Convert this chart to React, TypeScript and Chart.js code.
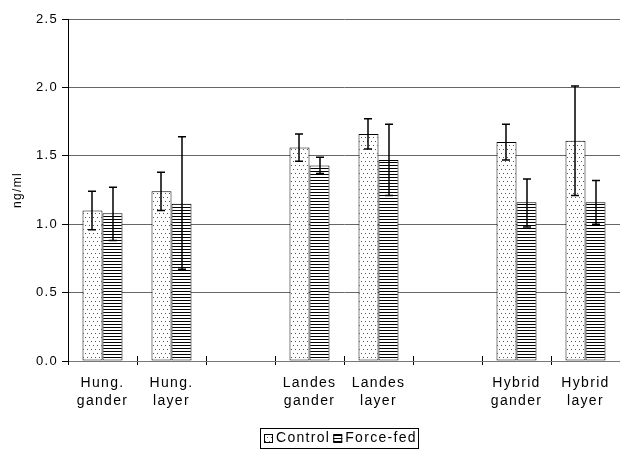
import React, { useEffect, useRef } from "react";
import { Chart, registerables } from "chart.js";
Chart.register(...registerables);

const categories: (string | string[])[] = [
  ["Hung.", "gander"], ["Hung.", "layer"], "", ["Landes", "gander"], ["Landes", "layer"], "", ["Hybrid", "gander"], ["Hybrid", "layer"],
];
const seriesNames = ["Control", "Force-fed"];
const controlValues = [1.10, 1.24, 0, 1.56, 1.66, 0, 1.60, 1.61];
const controlLow = [0.96, 1.10, null, 1.46, 1.55, null, 1.47, 1.21];
const controlHigh = [1.24, 1.38, null, 1.66, 1.77, null, 1.73, 2.01];
const forceFedValues = [1.08, 1.15, 0, 1.43, 1.47, 0, 1.16, 1.16];
const forceFedLow = [0.88, 0.67, null, 1.37, 1.21, null, 0.98, 1.00];
const forceFedHigh = [1.27, 1.64, null, 1.49, 1.73, null, 1.33, 1.32];
const yTicks = [0, 0.5, 1.0, 1.5, 2.0, 2.5];

const FONT = "'Liberation Sans', Arial, sans-serif";
const SPACING = "1.3px";

function dotPattern(): CanvasPattern | string {
  const c = document.createElement("canvas");
  c.width = 4; c.height = 8;
  const g = c.getContext("2d")!;
  g.fillStyle = "#ffffff"; g.fillRect(0, 0, 4, 8);
  g.fillStyle = "#555555";
  g.fillRect(1, 1, 1, 1);
  g.fillRect(3, 5, 1, 1);
  const p = document.createElement("canvas").getContext("2d")!.createPattern(c, "repeat");
  return p || "#fff";
}
function linePattern(): CanvasPattern | string {
  const c = document.createElement("canvas");
  c.width = 4; c.height = 3;
  const g = c.getContext("2d")!;
  g.fillStyle = "#ffffff"; g.fillRect(0, 0, 4, 3);
  g.fillStyle = "#000000"; g.fillRect(0, 0, 4, 1);
  const p = document.createElement("canvas").getContext("2d")!.createPattern(c, "repeat");
  return p || "#000";
}

const spacingPlugin = {
  id: "letterSpacing",
  beforeLayout(chart: any) { (chart.ctx as any).letterSpacing = SPACING; },
  beforeDraw(chart: any) { (chart.ctx as any).letterSpacing = SPACING; },
};

const errorBarPlugin = {
  id: "errorBars",
  afterDatasetsDraw(chart: any) {
    const ctx = chart.ctx;
    const y = chart.scales.y;
    const lows = [controlLow, forceFedLow];
    const highs = [controlHigh, forceFedHigh];
    ctx.save();
    ctx.strokeStyle = "#000";
    ctx.lineWidth = 1.5;
    chart.data.datasets.forEach((_: any, di: number) => {
      const meta = chart.getDatasetMeta(di);
      meta.data.forEach((el: any, i: number) => {
        const lo = lows[di][i], hi = highs[di][i];
        if (lo == null || hi == null) return;
        const x = Math.round(el.x);
        const yl = y.getPixelForValue(lo), yh = y.getPixelForValue(hi);
        ctx.beginPath();
        ctx.moveTo(x, yl); ctx.lineTo(x, yh);
        ctx.moveTo(x - 4, yl); ctx.lineTo(x + 4, yl);
        ctx.moveTo(x - 4, yh); ctx.lineTo(x + 4, yh);
        ctx.stroke();
      });
    });
    // category boundary marks crossing the axis
    const xs = chart.scales.x;
    const bottom = chart.chartArea.bottom;
    ctx.lineWidth = 1;
    for (let i = 1; i <= categories.length; i++) {
      const px = Math.round((xs.getPixelForTick(i - 1) + (i < categories.length ? xs.getPixelForTick(i) : xs.right + (xs.right - xs.getPixelForTick(i - 1)))) / 2) + 0.5;
      if (px > xs.right) continue;
      ctx.beginPath();
      ctx.moveTo(px, bottom - 5); ctx.lineTo(px, bottom);
      ctx.stroke();
    }
    ctx.restore();
  },
};

const legendPlugin = {
  id: "boxLegend",
  afterDraw(chart: any) {
    const ctx = chart.ctx;
    ctx.save();
    ctx.letterSpacing = SPACING;
    ctx.font = `14px ${FONT}`;
    ctx.textBaseline = "middle";
    const box = 9;
    const gap = 3;
    const itemGap = 3;
    const widths = seriesNames.map((n) => box + gap + ctx.measureText(n).width);
    const total = widths.reduce((a, b) => a + b, 0) + itemGap;
    const cx = 340;
    const left = Math.round(cx - total / 2 - 4);
    const right = Math.round(cx + total / 2 + 2);
    const top = 428, bottom = 448;
    ctx.strokeStyle = "#000"; ctx.lineWidth = 1;
    ctx.strokeRect(left + 0.5, top + 0.5, right - left, bottom - top);
    let x = left + 4;
    const cy = (top + bottom) / 2 + 0.5;
    chart.data.datasets.forEach((ds: any, i: number) => {
      ctx.fillStyle = ds.backgroundColor;
      ctx.fillRect(x, Math.round(cy - box / 2), box, box);
      ctx.strokeStyle = "#000";
      ctx.strokeRect(x + 0.5, Math.round(cy - box / 2) + 0.5, box - 1, box - 1);
      ctx.fillStyle = "#000";
      ctx.textAlign = "left";
      ctx.fillText(seriesNames[i], x + box + gap, cy);
      x += widths[i] + itemGap;
    });
    ctx.restore();
  },
};

export default function App() {
  const ref = useRef<HTMLCanvasElement>(null);
  useEffect(() => {
    const chart = new Chart(ref.current!, {
      type: "bar",
      data: {
        labels: categories as any,
        datasets: [
          { label: seriesNames[0], data: controlValues, backgroundColor: dotPattern() as any, borderColor: "#000", borderWidth: 1, borderSkipped: false, barPercentage: 1, categoryPercentage: 0.58 },
          { label: seriesNames[1], data: forceFedValues, backgroundColor: linePattern() as any, borderColor: "#000", borderWidth: 1, borderSkipped: false, barPercentage: 1, categoryPercentage: 0.58 },
        ],
      },
      options: {
        responsive: false,
        animation: false,
        layout: { padding: { top: 19, right: 0, left: 0, bottom: 0 } },
        plugins: { legend: { display: false }, tooltip: { enabled: false } },
        scales: {
          x: {
            offset: true,
            grid: { offset: true, drawOnChartArea: false, color: "#000", tickLength: 4, tickColor: "#000" },
            border: { color: "#777", width: 1 },
            ticks: { color: "#000", font: { family: FONT, size: 14, lineHeight: 1.28 }, maxRotation: 0, autoSkip: false, padding: 9 },
            afterFit: (s: any) => { s.height = 89; },
          },
          y: {
            min: 0, max: 2.5,
            afterBuildTicks: (s: any) => { s.ticks = yTicks.map((v) => ({ value: v })); },
            grid: { color: "#666", tickColor: "#000", tickLength: 6 },
            border: { color: "#000", width: 1 },
            ticks: { color: "#000", font: { family: FONT, size: 13 }, padding: 4, callback: (v: any) => Number(v).toFixed(1) },
            title: { display: true, text: "ng/ml", color: "#000", font: { family: FONT, size: 12 }, padding: { top: 10, bottom: 0 } },
            afterFit: (s: any) => { s.width = 68; },
          },
        },
      },
      plugins: [spacingPlugin, errorBarPlugin, legendPlugin],
    });
    return () => chart.destroy();
  }, []);
  return (
    <div style={{ position: "absolute", left: 0, top: 0, width: 620, height: 450, background: "#fff" }}>
      <canvas ref={ref} width={620} height={450} />
    </div>
  );
}
